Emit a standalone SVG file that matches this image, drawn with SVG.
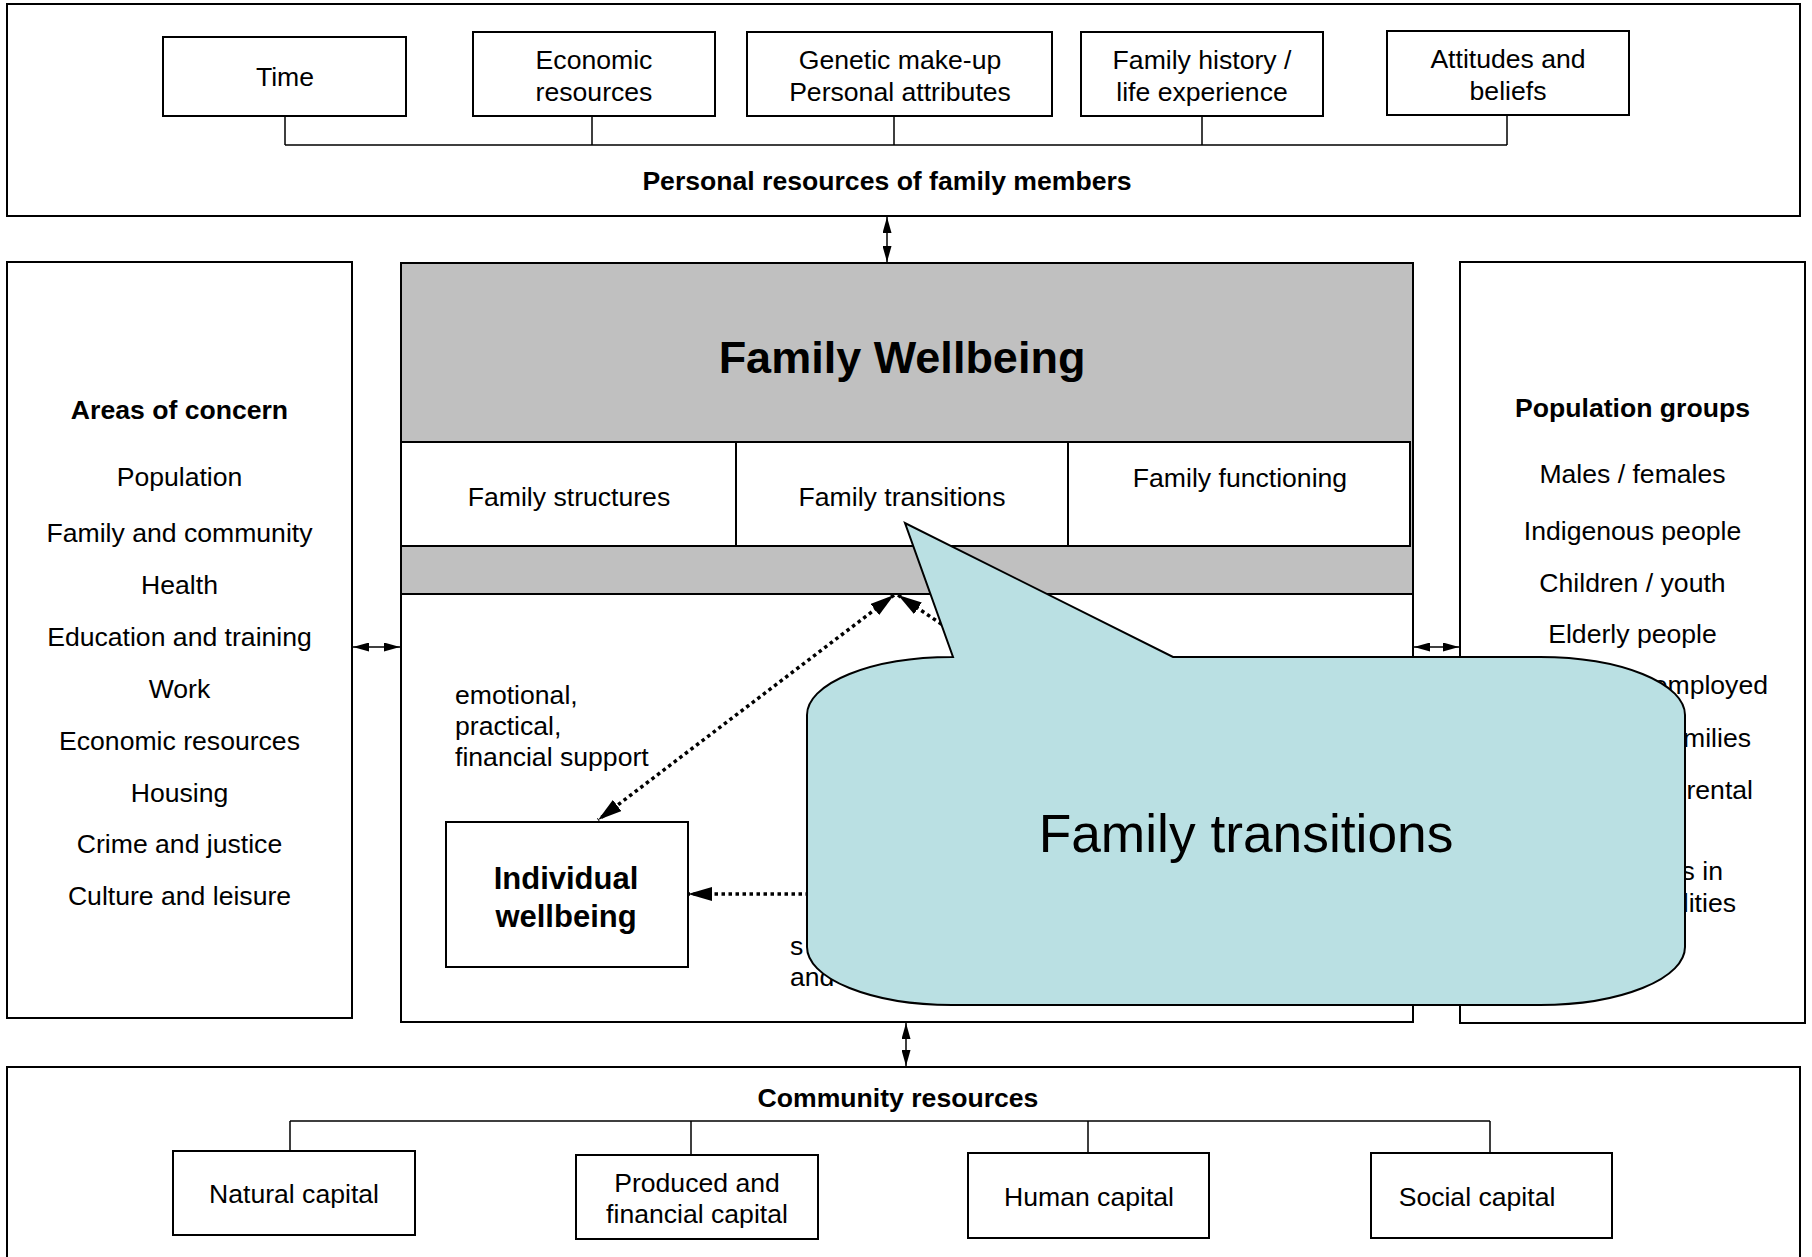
<svg xmlns="http://www.w3.org/2000/svg" width="1812" height="1257" viewBox="0 0 1812 1257">
<defs>
<style>
.box{fill:#fff;stroke:#000;stroke-width:2}
.grey{fill:#C0C0C0;stroke:#000;stroke-width:2}
.t{font-family:"Liberation Sans",Arial,Helvetica,sans-serif;font-size:26.6px;fill:#000}
.b{font-weight:bold}
.c{text-anchor:middle}
.e{text-anchor:end}
.ln{stroke:#000;stroke-width:1.5;fill:none}
.sa{stroke:#000;stroke-width:1.5;fill:none;marker-start:url(#sah);marker-end:url(#sah)}
.dot{stroke:#000;stroke-width:3.5;stroke-dasharray:3.5 3.5;fill:none}
</style>
<marker id="sah" markerUnits="userSpaceOnUse" viewBox="0 0 16 9" markerWidth="16" markerHeight="9" refX="16" refY="4.5" orient="auto-start-reverse"><path d="M0,0 L16,4.5 L0,9 Z" fill="#000"/></marker>
<marker id="bah" markerUnits="userSpaceOnUse" viewBox="0 0 24 14" markerWidth="24" markerHeight="14" refX="24" refY="7" orient="auto-start-reverse"><path d="M0,0 L24,7 L0,14 Z" fill="#000"/></marker>
</defs>
<rect width="1812" height="1257" fill="#fff"/>

<g id="personal-resources">
<rect class="box" x="7" y="4" width="1793" height="212"/>
<text class="t b c" x="887" y="189.5">Personal resources of family members</text>
</g>
<g id="time"><rect class="box" x="163" y="37" width="243" height="79"/><text class="t c" x="285" y="86">Time</text></g>
<g id="economic-resources"><rect class="box" x="473" y="32" width="242" height="84"/><text class="t c" x="594" y="69">Economic</text><text class="t c" x="594" y="100.5">resources</text></g>
<g id="genetic"><rect class="box" x="747" y="32" width="305" height="84"/><text class="t c" x="900" y="69">Genetic make-up</text><text class="t c" x="900" y="100.5">Personal attributes</text></g>
<g id="family-history"><rect class="box" x="1081" y="32" width="242" height="84"/><text class="t c" x="1202" y="69">Family history /</text><text class="t c" x="1202" y="100.5">life experience</text></g>
<g id="attitudes"><rect class="box" x="1387" y="31" width="242" height="84"/><text class="t c" x="1508" y="68">Attitudes and</text><text class="t c" x="1508" y="99.5">beliefs</text></g>

<g id="areas-of-concern">
<rect class="box" x="7" y="262" width="345" height="756"/>
<text class="t b c" x="179.5" y="419">Areas of concern</text>
<text class="t c" x="179.5" y="486">Population</text>
<text class="t c" x="179.5" y="541.5">Family and community</text>
<text class="t c" x="179.5" y="593.5">Health</text>
<text class="t c" x="179.5" y="645.5">Education and training</text>
<text class="t c" x="179.5" y="697.5">Work</text>
<text class="t c" x="179.5" y="749.5">Economic resources</text>
<text class="t c" x="179.5" y="801.5">Housing</text>
<text class="t c" x="179.5" y="853">Crime and justice</text>
<text class="t c" x="179.5" y="905">Culture and leisure</text>
</g>

<g id="population-groups">
<rect class="box" x="1460" y="262" width="345" height="761"/>
<text class="t b c" x="1632.5" y="416.5">Population groups</text>
<text class="t c" x="1632.5" y="483">Males / females</text>
<text class="t c" x="1632.5" y="540">Indigenous people</text>
<text class="t c" x="1632.5" y="591.5">Children / youth</text>
<text class="t c" x="1632.5" y="642.5">Elderly people</text>
<text class="t e" x="1768" y="694">employed</text>
<text class="t e" x="1751" y="747">milies</text>
<text class="t e" x="1753" y="798.5">rental</text>
<text class="t e" x="1723" y="880">s in</text>
<text class="t e" x="1736" y="911.5">lities</text>
</g>

<g id="family-wellbeing">
<rect class="grey" x="401" y="263" width="1012" height="331"/>
<rect class="box" x="401" y="594" width="1012" height="428"/>
<text class="t b c" x="902" y="373" style="font-size:45px">Family Wellbeing</text>
</g>
<g id="family-structures"><rect class="box" x="401" y="442" width="335" height="104"/><text class="t c" x="569" y="505.5">Family structures</text></g>
<g id="family-transitions"><rect class="box" x="736" y="442" width="332" height="104"/><text class="t c" x="902" y="505.5">Family transitions</text></g>
<g id="family-functioning"><rect class="box" x="1068" y="442" width="342" height="104"/><text class="t c" x="1240" y="487">Family functioning</text></g>

<g id="support-label">
<text class="t" x="455" y="704">emotional,</text>
<text class="t" x="455" y="735">practical,</text>
<text class="t" x="455" y="766">financial support</text>
</g>
<g id="hidden-label">
<text class="t" x="790" y="955">s</text>
<text class="t" x="790" y="986">and</text>
</g>

<g id="individual-wellbeing">
<rect class="box" x="446" y="822" width="242" height="145"/>
<text class="t b c" x="566" y="889" style="font-size:31px">Individual</text>
<text class="t b c" x="566" y="927" style="font-size:31px">wellbeing</text>
</g>

<g id="community-resources">
<rect class="box" x="7" y="1067" width="1793" height="200"/>
<text class="t b c" x="898" y="1107">Community resources</text>
</g>
<g id="natural-capital"><rect class="box" x="173" y="1151" width="242" height="84"/><text class="t c" x="294" y="1203">Natural capital</text></g>
<g id="produced-capital"><rect class="box" x="576" y="1155" width="242" height="84"/><text class="t c" x="697" y="1192">Produced and</text><text class="t c" x="697" y="1223">financial capital</text></g>
<g id="human-capital"><rect class="box" x="968" y="1153" width="241" height="85"/><text class="t c" x="1089" y="1206">Human capital</text></g>
<g id="social-capital"><rect class="box" x="1371" y="1153" width="241" height="85"/><text class="t c" x="1477" y="1206">Social capital</text></g>

<g id="connectors">
<path class="ln" d="M285,116 V145 M592,116 V145 M894,116 V145 M1202,116 V145 M1507,115 V145 M285,145 H1507"/>
<path class="ln" d="M290,1121 H1490 M290,1121 V1151 M691,1121 V1155 M1088,1121 V1153 M1490,1121 V1153"/>
<line class="sa" x1="887" y1="217" x2="887" y2="262"/>
<line class="sa" x1="906" y1="1023" x2="906" y2="1066"/>
<line class="sa" x1="353" y1="647" x2="400" y2="647"/>
<line class="sa" x1="1414" y1="647" x2="1459" y2="647"/>
<line class="dot" x1="894" y1="595" x2="598" y2="820" marker-start="url(#bah)" marker-end="url(#bah)"/>
<line class="dot" x1="898" y1="595" x2="1100" y2="730" marker-start="url(#bah)"/>
<line class="dot" x1="900" y1="894" x2="688" y2="894" marker-end="url(#bah)"/>
</g>

<g id="callout">
<path d="M952,657 L953,657 L905,523 L1173,657 L1540,657 A145 58 0 0 1 1685,715 L1685,947 A145 58 0 0 1 1540,1005 L952,1005 A145 58 0 0 1 807,947 L807,715 A145 58 0 0 1 952,657 Z" fill="#BAE0E3" stroke="#000" stroke-width="2" stroke-linejoin="miter"/>
<text class="t c" x="1246" y="852" style="font-size:53.3px">Family transitions</text>
</g>
</svg>
